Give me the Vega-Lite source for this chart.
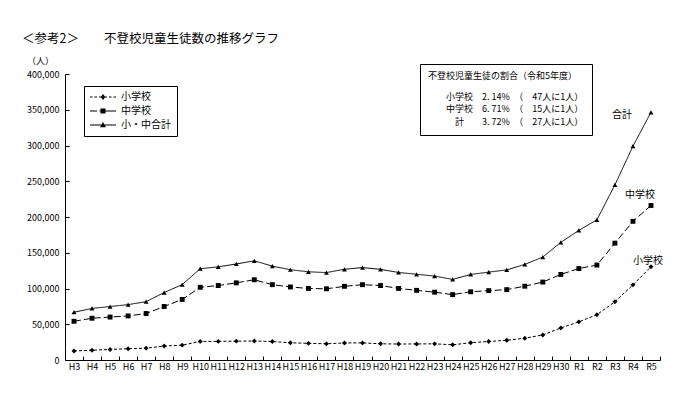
{
  "$schema": "https://vega.github.io/schema/vega-lite/v6.json",
  "width": 595,
  "height": 286,
  "autosize": {"type": "none"},
  "padding": {"left": 65, "top": 74, "right": 40, "bottom": 37},
  "background": "white",
  "config": {
    "font": "Noto Sans CJK JP",
    "view": {"stroke": null},
    "axis": {"grid": false, "domainColor": "black", "tickColor": "black", "labelColor": "black", "titleColor": "black", "labelFont": "Noto Sans CJK JP", "titleFont": "Noto Sans CJK JP"},
    "legend": {"labelFont": "Noto Sans CJK JP", "titleFont": "Noto Sans CJK JP", "labelColor": "black", "titleColor": "black"}
  },
  "title": {
    "text": "＜参考2＞　　不登校児童生徒数の推移グラフ",
    "anchor": "start",
    "frame": "group",
    "dx": -43,
    "offset": 1,
    "fontSize": 12.5,
    "fontWeight": "normal",
    "color": "black",
    "baseline": "alphabetic",
    "font": "Noto Sans CJK JP"
  },
  "datasets": {
    "main": [
      {"year": "H3", "小学校": 12645, "中学校": 54172, "小・中合計": 66817},
      {"year": "H4", "小学校": 13710, "中学校": 58421, "小・中合計": 72131},
      {"year": "H5", "小学校": 14769, "中学校": 60039, "小・中合計": 74808},
      {"year": "H6", "小学校": 15786, "中学校": 61663, "小・中合計": 77449},
      {"year": "H7", "小学校": 16569, "中学校": 65022, "小・中合計": 81591},
      {"year": "H8", "小学校": 19498, "中学校": 74853, "小・中合計": 94351},
      {"year": "H9", "小学校": 20765, "中学校": 84701, "小・中合計": 105466},
      {"year": "H10", "小学校": 26017, "中学校": 101675, "小・中合計": 127692},
      {"year": "H11", "小学校": 26047, "中学校": 104180, "小・中合計": 130227},
      {"year": "H12", "小学校": 26373, "中学校": 107913, "小・中合計": 134286},
      {"year": "H13", "小学校": 26511, "中学校": 112211, "小・中合計": 138722},
      {"year": "H14", "小学校": 25869, "中学校": 105383, "小・中合計": 131252},
      {"year": "H15", "小学校": 24077, "中学校": 102149, "小・中合計": 126226},
      {"year": "H16", "小学校": 23318, "中学校": 100040, "小・中合計": 123358},
      {"year": "H17", "小学校": 22709, "中学校": 99578, "小・中合計": 122287},
      {"year": "H18", "小学校": 23825, "中学校": 103069, "小・中合計": 126894},
      {"year": "H19", "小学校": 23927, "中学校": 105328, "小・中合計": 129255},
      {"year": "H20", "小学校": 22652, "中学校": 104153, "小・中合計": 126805},
      {"year": "H21", "小学校": 22327, "中学校": 100105, "小・中合計": 122432},
      {"year": "H22", "小学校": 22463, "中学校": 97428, "小・中合計": 119891},
      {"year": "H23", "小学校": 22622, "中学校": 94836, "小・中合計": 117458},
      {"year": "H24", "小学校": 21243, "中学校": 91446, "小・中合計": 112689},
      {"year": "H25", "小学校": 24175, "中学校": 95442, "小・中合計": 119617},
      {"year": "H26", "小学校": 25864, "中学校": 97033, "小・中合計": 122897},
      {"year": "H27", "小学校": 27583, "中学校": 98408, "小・中合計": 125991},
      {"year": "H28", "小学校": 30448, "中学校": 103235, "小・中合計": 133683},
      {"year": "H29", "小学校": 35032, "中学校": 108999, "小・中合計": 144031},
      {"year": "H30", "小学校": 44841, "中学校": 119687, "小・中合計": 164528},
      {"year": "R1", "小学校": 53350, "中学校": 127922, "小・中合計": 181272},
      {"year": "R2", "小学校": 63350, "中学校": 132777, "小・中合計": 196127},
      {"year": "R3", "小学校": 81498, "中学校": 163442, "小・中合計": 244940},
      {"year": "R4", "小学校": 105112, "中学校": 193936, "小・中合計": 299048},
      {"year": "R5", "小学校": 130370, "中学校": 216112, "小・中合計": 346482}
    ],
    "note": [
      {"note": "小学校　2. 14%　（　47人に1人）"},
      {"note": "中学校　6. 71%　（　15人に1人）"},
      {"note": "\u200b　計　　3. 72%　（　27人に1人）"}
    ]
  },
  "layer": [
    {
      "data": {"name": "main"},
      "transform": [{"fold": ["小学校", "中学校", "小・中合計"], "as": ["series", "count"]}],
      "encoding": {
        "x": {
          "field": "year",
          "type": "ordinal",
          "sort": null,
          "bandPosition": 0.5,
          "scale": {"type": "band", "paddingInner": 0, "paddingOuter": 0},
          "axis": {
            "title": null,
            "labelAngle": 0,
            "labelFontSize": 9,
            "tickBand": "extent",
            "tickSize": -4,
            "labelPadding": 6,
            "domainWidth": 1
          }
        },
        "y": {
          "field": "count",
          "type": "quantitative",
          "scale": {"domain": [0, 400000], "nice": false},
          "axis": {
            "values": [0, 50000, 100000, 150000, 200000, 250000, 300000, 350000, 400000],
            "format": ",d",
            "title": "（人）",
            "titleAngle": 0,
            "titleX": -25,
            "titleY": -14,
            "titleAlign": "center",
            "titleBaseline": "middle",
            "titleFontSize": 9,
            "titleFontWeight": "normal",
            "labelFontSize": 9,
            "tickSize": -4,
            "labelPadding": 10
          }
        }
      },
      "layer": [
        {
          "mark": {"type": "line", "color": "black", "strokeWidth": 1, "strokeCap": "butt"},
          "encoding": {
            "strokeDash": {
              "field": "series",
              "type": "nominal",
              "scale": {"domain": ["小学校", "中学校", "小・中合計"], "range": [[3, 2], [7, 3], [1, 0]]},
              "legend": null
            }
          }
        },
        {
          "mark": {"type": "point", "filled": true, "color": "black", "opacity": 1, "size": 24},
          "encoding": {
            "shape": {
              "field": "series",
              "type": "nominal",
              "scale": {"domain": ["小学校", "中学校", "小・中合計"], "range": ["diamond", "square", "triangle-up"]},
              "legend": null
            }
          }
        },
        {
          "mark": {"type": "point", "filled": true, "color": "black", "opacity": 0, "size": 10},
          "encoding": {
            "shape": {
              "field": "series",
              "type": "nominal",
              "scale": {
                "domain": ["小学校", "中学校", "小・中合計"],
                "range": [
                  "M-2.6,-0.1H-2.1V0.1H-2.6ZM-1.7,-0.1H-1.2V0.1H-1.7ZM-0.8,-0.1H-0.3V0.1H-0.8ZM0.3,-0.1H0.8V0.1H0.3ZM1.2,-0.1H1.7V0.1H1.2ZM2.1,-0.1H2.6V0.1H2.1ZM0,-0.6L0.45,0L0,0.6L-0.45,0Z",
                  "M-2.6,-0.1H-1.2V0.1H-2.6ZM-0.7,-0.1H2.6V0.1H-0.7ZM-0.5,-0.5H0.5V0.5H-0.5Z",
                  "M-2.6,-0.1H2.6V0.1H-2.6ZM0,-0.6L0.6,0.45H-0.6Z"
                ]
              },
              "legend": {
                "orient": "none",
                "legendX": 19,
                "legendY": 12,
                "title": null,
                "strokeColor": "black",
                "fillColor": "white",
                "padding": 6,
                "labelFontSize": 10,
                "rowPadding": 4,
                "symbolSize": 100,
                "symbolOffset": 8,
                "labelOffset": 13,
                "symbolOpacity": 1,
                "symbolFillColor": "black",
                "symbolStrokeColor": "black",
                "symbolStrokeWidth": 0
              }
            }
          }
        },
        {
          "transform": [{"filter": "datum.year == 'R5' && datum.series == '小・中合計'"}],
          "mark": {"type": "text", "text": "合計", "dx": -29, "dy": 3, "fontSize": 10, "color": "black", "align": "center", "baseline": "middle"}
        },
        {
          "transform": [{"filter": "datum.year == 'R5' && datum.series == '中学校'"}],
          "mark": {"type": "text", "text": "中学校", "dx": -11, "dy": -10, "fontSize": 10, "color": "black", "align": "center", "baseline": "middle"}
        },
        {
          "transform": [{"filter": "datum.year == 'R5' && datum.series == '小学校'"}],
          "mark": {"type": "text", "text": "小学校", "dx": -3, "dy": -6, "fontSize": 10, "color": "black", "align": "center", "baseline": "middle"}
        }
      ],
      "resolve": {"scale": {"shape": "independent"}}
    },
    {
      "data": {"name": "note"},
      "mark": {"type": "point", "opacity": 0},
      "encoding": {
        "color": {
          "field": "note",
          "type": "nominal",
          "sort": null,
          "scale": {"range": ["black"]},
          "legend": {
            "orient": "none",
            "legendX": 355,
            "legendY": -10,
            "title": "不登校児童生徒の割合（令和5年度）",
            "titleFontSize": 9,
            "titleFontWeight": "normal",
            "titlePadding": 11,
            "titleLimit": 300,
            "labelFontSize": 9,
            "labelLimit": 300,
            "strokeColor": "black",
            "fillColor": "white",
            "padding": 8,
            "rowPadding": 2.5,
            "symbolSize": 0,
            "symbolOpacity": 0,
            "symbolStrokeWidth": 0,
            "labelOffset": 9
          }
        }
      }
    }
  ]
}
